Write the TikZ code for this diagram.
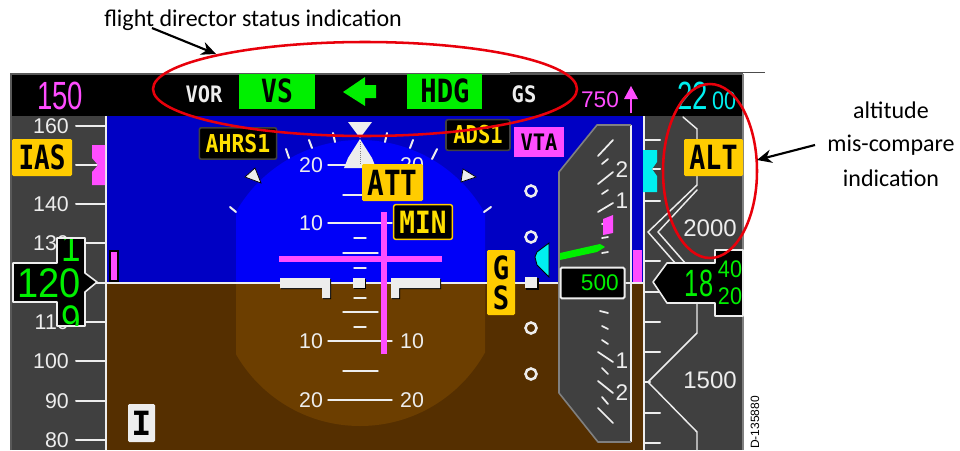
\documentclass[tikz,border=0pt]{standalone}
\usepackage{fontspec}
\usepackage{graphicx}
\usetikzlibrary{arrows.meta}
\setmainfont{Carlito}
\newfontfamily\digf{Liberation Sans}
\newfontfamily\monof{DejaVu Sans Mono}[BoldFont={DejaVu Sans Mono Bold}]
\newcommand\fsz[1]{\fontsize{#1}{#1}\selectfont}
\newcommand\sqz[2]{\scalebox{#1}[1]{#2}}
\definecolor{skyd}{HTML}{0000C4}
\definecolor{skyl}{HTML}{0000F8}
\definecolor{grd}{HTML}{552F00}
\definecolor{grl}{HTML}{6C3E00}
\definecolor{tape}{HTML}{404040}
\definecolor{amber}{HTML}{FFCC00}
\definecolor{yel}{HTML}{FFE000}
\definecolor{mag}{HTML}{FF4DFF}
\definecolor{grn}{HTML}{00F000}
\definecolor{cyn}{HTML}{00F0F0}
\definecolor{wht}{HTML}{EDEDED}
\definecolor{redl}{HTML}{E8000B}
\tikzset{
  tk/.style={draw=wht,line width=1.5pt,line cap=round},
  tkthin/.style={draw=wht,line width=1.1pt,line cap=round},
  num/.style={inner sep=0pt,text=wht,font=\digf\fsz{16}},
  lbl/.style={inner sep=0pt,font=\monof\bfseries},
  captxt/.style={inner sep=0pt,text=black,font=\fsz{18}},
  amberbox/.style={fill=amber,rounded corners=1pt},
  ring/.style={draw=wht,line width=1.9pt,fill=none},
  redring/.style={draw=redl,line width=1.9pt},
  pointer/.style={draw=black,line width=1.6pt,-{Stealth[length=11pt,width=10pt]}},
}
\begin{document}
\begin{tikzpicture}[x=.75pt,y=-.75pt]
\useasboundingbox (0,0) rectangle (960,450);
\fill[white] (0,0) rectangle (960,450);
% panels
\fill[black] (11,74) rectangle (743,116);
\fill[skyd] (106,116) rectangle (644,283);
\fill[grd] (106,283) rectangle (644,450);
\fill[tape] (11,116) rectangle (106,450);
\fill[tape] (644,116) rectangle (743,450);
\draw[gray!70!black,line width=.8pt] (11,450) -- (11,74) -- (743,74);
\draw[gray,line width=.8pt] (743,74) -- (743,450);
\draw[gray!60!black,line width=.7pt] (510,72) -- (765,72);
% lighter central area
\begin{scope}
\clip (236,116) rectangle (485,283);
\fill[skyl] (360,283) circle [radius=143];
\end{scope}
\begin{scope}
\clip (236,283) rectangle (485,450);
\fill[grl] (360,283) circle [radius=143];
\end{scope}
% horizon
\draw[draw=wht,line width=1.6pt] (106,283) -- (560,283);
% speed tape
\draw[wht,line width=1.5pt] (106,116) -- (106,450);
\foreach \yy in {126,204,243,283,322,361,401,440}
  \draw[tk] (76,\yy) -- (105,\yy);
\draw[tk] (76,165) -- (97,165);
\foreach \tx/\yy in {160/126,140/204,130/243,110/322,100/361,90/401,80/440}
  \node[num,anchor=east] (spd\tx) at (69,\yy) {\tx};
\fill[mag] (92,145) -- (105,145) -- (105,185) -- (92,185) -- (92,172) -- (98,165) -- (92,158) -- cycle;
\draw[black,line width=.8pt,fill=mag] (110,251) rectangle (118,281);
% speed readout
\path[fill=black,draw=wht,line width=1.2pt,line join=round]
  (57,238) -- (85,238) -- (85,273) -- (97,282) -- (85,292) -- (85,326) -- (57,326) -- (57,302)
  -- (13,302) -- (13,263) -- (57,263) -- cycle;
\begin{scope}
\clip (57,239) -- (84,239) -- (84,325) -- (57,325) -- cycle;
\node[inner sep=0pt,text=grn,font=\digf\fsz{31}] (spddrum1) at (71,247) {\sqz{.85}{1}};
\node[inner sep=0pt,text=grn,font=\digf\fsz{31}] (spddrum9) at (71,320) {\sqz{.85}{9}};
\end{scope}
\node[inner sep=0pt,text=grn,font=\digf\fsz{31}] (spdread) at (49,283) {\sqz{.92}{120}};
% IAS
\node[amberbox,minimum width=45pt,minimum height=27.75pt,inner sep=0pt,font=\monof\bfseries\fsz{25},text=black] (ias) at (42,157.5) {\sqz{.78}{IAS}};
% top band
\node[inner sep=0pt,text=mag,font=\digf\fsz{29.5}] (sel) at (60,96) {\sqz{.7}{150}};
\node[lbl,text=wht,font=\monof\bfseries\fsz{17}] (vor) at (204,94) {\sqz{.9}{VOR}};
\node[fill=grn,minimum width=57pt,minimum height=26.25pt,inner sep=0pt] (vsb) at (277,91.5) {};
\node[lbl,text=black,font=\monof\bfseries\fsz{24}] (vs) at (277,91) {\sqz{.82}{VS}};
\fill[grn] (343,92) -- (365,77) -- (365,85) -- (376,85) -- (376,98) -- (365,98) -- (365,106) -- cycle;
\node[fill=grn,minimum width=56.25pt,minimum height=26.25pt,inner sep=0pt] (hdgb) at (444.5,91.5) {};
\node[lbl,text=black,font=\monof\bfseries\fsz{24}] (hdg) at (445,91) {\sqz{.85}{HDG}};
\node[lbl,text=wht,font=\monof\bfseries\fsz{17}] (gstop) at (524,94) {\sqz{.9}{GS}};
\node[inner sep=0pt,text=mag,font=\digf\fsz{17}] (vs750) at (600,100) {750};
\draw[mag,line width=1.6pt] (631,113) -- (631,92);
\fill[mag] (631,86) -- (638,99) -- (624,99) -- cycle;
\node[inner sep=0pt,text=cyn,font=\digf\fsz{29.5}] (alt22) at (692.5,96) {\sqz{.7}{22}};
\node[inner sep=0pt,text=cyn,font=\digf\fsz{19}] (alt00) at (724,101) {\sqz{.85}{00}};
% roll scale
\foreach \a/\b/\c/\d in {286/149/289/158,309/140/312/148,333/133/335/142,387/133/385/142,413/140/410/148,437/149/432/159,491/207/484/212,230/207/236/212}
  \draw[tk] (\a,\b) -- (\c,\d);
\fill[wht,draw=black,line width=.5pt] (245,177) -- (255,168) -- (261,183) -- cycle;
\fill[wht,draw=black,line width=.5pt] (461,182) -- (463,169) -- (476,177) -- cycle;
\fill[wht] (348,122) -- (372,122) -- (360,138) -- cycle;
\fill[wht] (360,139) -- (372,158) -- (376,168) -- (344,168) -- (348,158) -- cycle;
\draw[gray,line width=.6pt,densely dotted] (360,142) -- (360,166);
% pitch ladder
\foreach \yy in {165,223,341,400}
  \draw[tkthin] (328,\yy) -- (392,\yy);
\foreach \yy in {195,253,312,371}
  \draw[tkthin] (343,\yy) -- (378,\yy);
\foreach \yy in {238,268,298,327}
  \draw[tkthin] (354,\yy) -- (366,\yy);
\foreach \tx/\yy/\n in {20/165/a,10/223/b,10/341/c,20/400/d}
  \node[num] (pl\n) at (311,\yy) {\tx};
\foreach \tx/\yy/\n in {20/165/a,10/341/c,20/400/d}
  \node[num] (pr\n) at (412,\yy) {\tx};
% flight director
\fill[mag] (279,256) rectangle (442,262);
\fill[mag] (381,212) rectangle (387,354);
% wings
\foreach \o/\c in {1/black,0/wht}{
  \fill[\c,shift={(\o,\o)}] (280,278) -- (330,278) -- (330,298) -- (322,298) -- (322,288) -- (280,288) -- cycle;
  \fill[\c,shift={(\o,\o)}] (391,278) -- (440,278) -- (440,288) -- (399,288) -- (399,298) -- (391,298) -- cycle;
  \fill[\c,shift={(\o,\o)}] (353,278) rectangle (365,288);
}
% labels in ADI
\node[fill=black,draw=tape,line width=1.2pt,rounded corners=1.5pt,minimum width=58pt,minimum height=23.5pt,inner sep=0pt,text=yel,font=\monof\bfseries\fsz{18.5}] (ahrs) at (238,143.5) {\sqz{.87}{AHRS1}};
\node[fill=black,draw=tape,line width=1.2pt,rounded corners=1.5pt,minimum width=48pt,minimum height=23pt,inner sep=0pt,text=yel,font=\monof\bfseries\fsz{18.5}] (ads) at (478,135) {\sqz{.83}{ADS1}};
\node[fill=mag,minimum width=37.5pt,minimum height=22.5pt,inner sep=0pt,text=black,font=\monof\bfseries\fsz{17}] (vta) at (539,142) {\sqz{.9}{VTA}};
\node[amberbox,minimum width=45.75pt,minimum height=27.75pt,inner sep=0pt,text=black,font=\monof\bfseries\fsz{26}] (att) at (392.5,182.5) {\sqz{.8}{ATT}};
\node[fill=black,draw=amber,line width=1.1pt,rounded corners=1.5pt,minimum width=44pt,minimum height=26pt,inner sep=0pt,text=yel,font=\monof\bfseries\fsz{23}] (min) at (423,222) {\sqz{.85}{MIN}};
\node[amberbox,minimum width=21pt,minimum height=48.75pt,inner sep=0pt] (gsb) at (501,282.5) {};
\node[lbl,text=black,font=\monof\bfseries\fsz{24}] (gsg) at (501,268) {\sqz{.85}{G}};
\node[lbl,text=black,font=\monof\bfseries\fsz{24}] (gss) at (501,298) {\sqz{.85}{S}};
\node[fill=wht,rounded corners=1pt,minimum width=20.25pt,minimum height=28.5pt,inner sep=0pt,text=black,font=\monof\bfseries\fsz{25}] (ibox) at (141.5,423) {I};
% glideslope scale
\foreach \yy in {191,237,328,374}
  \draw[ring] (531,\yy) circle [radius=5.5];
\fill[black] (526,278) rectangle (539,290);
\fill[wht] (525,277) rectangle (537,288);
\fill[cyn,draw=black,line width=.6pt] (549,243) -- (537,252) -- (535,257) -- (537,265) -- (549,277) -- cycle;
% VSI
\fill[tape] (559,172) -- (597,125) -- (631,125) -- (631,442) -- (598,442) -- (559,393) -- cycle;
\draw[wht,line width=1.4pt] (631,125) -- (631,442);
\draw[gray,line width=1.2pt,line join=round] (631,125) -- (597,125) -- (559,172) -- (559,393) -- (598,442) -- (631,442);
\foreach \a/\b/\c/\d in {598/156/613/140,598/184/613/172,598/212/613/203,598/352/613/362,598/381/613/393,598/408/613/423}
  \draw[tk,line width=1.3pt] (\a,\b) -- (\c,\d);
\foreach \a/\b/\c/\d in {602/164/608/159,602/194/608/190,602/224/605/223,602/238/608/237,602/253/608/252,600/311/608/313,602/326/608/329,602/340/608/344,602/368/608/374,602/397/608/404}
  \draw[tk,line width=1.3pt] (\a,\b) -- (\c,\d);
\foreach \tx/\yy/\n in {2/170/a,1/201/b,1/361/c,2/393/d}
  \node[num,font=\digf\fsz{17}] (vsi\n) at (622,\yy) {\tx};
\fill[mag] (603,219) -- (613,215) -- (613,233) -- (603,235) -- cycle;
\fill[grn] (560,253) -- (600,244) -- (605,247) -- (597,252) -- (560,260) -- cycle;
\node[fill=black,draw=wht,line width=1.5pt,rounded corners=1pt,minimum width=48pt,minimum height=23pt,inner sep=0pt,text=grn,font=\digf\fsz{17}] (vsread) at (592.5,283) {\hspace*{11pt}500};
\draw[tk,line width=1.1pt] (626,283) -- (631,283);
% magenta bug between
\fill[mag] (633,250) rectangle (642,283);
\draw[draw=wht,line width=1.2pt] (632,283) -- (644,283);
% altitude tape
\draw[wht,line width=1.5pt] (644,116) -- (644,450);
\foreach \yy in {140,201,261,292,322,352,413,443}
  \draw[tk] (644,\yy) -- (660,\yy);
\draw[tk] (644,382) -- (650,382);
\fill[cyn] (643,150) -- (657,150) -- (657,162) -- (652,169) -- (657,176) -- (657,192) -- (643,192) -- cycle;
\draw[tk] (653,169) -- (660,169);
\draw[tkthin,line join=round] (683,117) -- (697,129) -- (697,185) -- (648,232) -- (690,280);
\draw[tkthin,line join=round] (697,190) -- (658,232) -- (700,280);
\draw[tkthin,line join=round] (697,300) -- (697,333) -- (648,382) -- (697,432) -- (697,450);
\node[num,font=\digf\fsz{18}] (a2000) at (710,228) {2000};
\node[num,font=\digf\fsz{18}] (a1500) at (710,380) {1500};
\node[amberbox,minimum width=44.25pt,minimum height=27.75pt,inner sep=0pt,text=black,font=\monof\bfseries\fsz{25}] (alt) at (713.5,157.5) {\sqz{.8}{ALT}};
% altitude readout
\path[fill=black,draw=wht,line width=1.2pt,line join=round]
  (653,282) -- (667,263) -- (715,263) -- (715,250) -- (743,250) -- (743,316) -- (715,316) -- (715,303) -- (667,303) -- cycle;
\node[inner sep=0pt,text=grn,font=\digf\fsz{28.5}] (a18) at (699,283.5) {\sqz{.67}{18}};
\node[inner sep=0pt,text=grn,font=\digf\fsz{18}] (a40) at (730,269) {\sqz{.9}{40}};
\node[inner sep=0pt,text=grn,font=\digf\fsz{18}] (a20) at (730,296) {\sqz{.9}{20}};
\node[inner sep=0pt,rotate=90,anchor=west,text=black,font=\digf\fsz{9}] (dnum) at (755,449) {D-135880};
% annotations
\node[captxt,anchor=west] (fdtxt) at (104,20) {flight director status indication};
\node[captxt] (alttxt1) at (891,110) {altitude};
\node[captxt] (alttxt2) at (891,145) {mis-compare};
\node[captxt] (alttxt3) at (891,178) {indication};
\draw[redring] (365,89) ellipse [x radius=212,y radius=47];
\draw[redring] (710,171) ellipse [x radius=47,y radius=87];
\coordinate (fdtail) at (152,28);
\coordinate (fdhead) at (216,54);
\coordinate (alttail) at (815,145);
\coordinate (althead) at (757,160);
\draw[pointer] (fdtail) -- (fdhead);
\draw[pointer] (alttail) -- (althead);
\end{tikzpicture}
\end{document}
